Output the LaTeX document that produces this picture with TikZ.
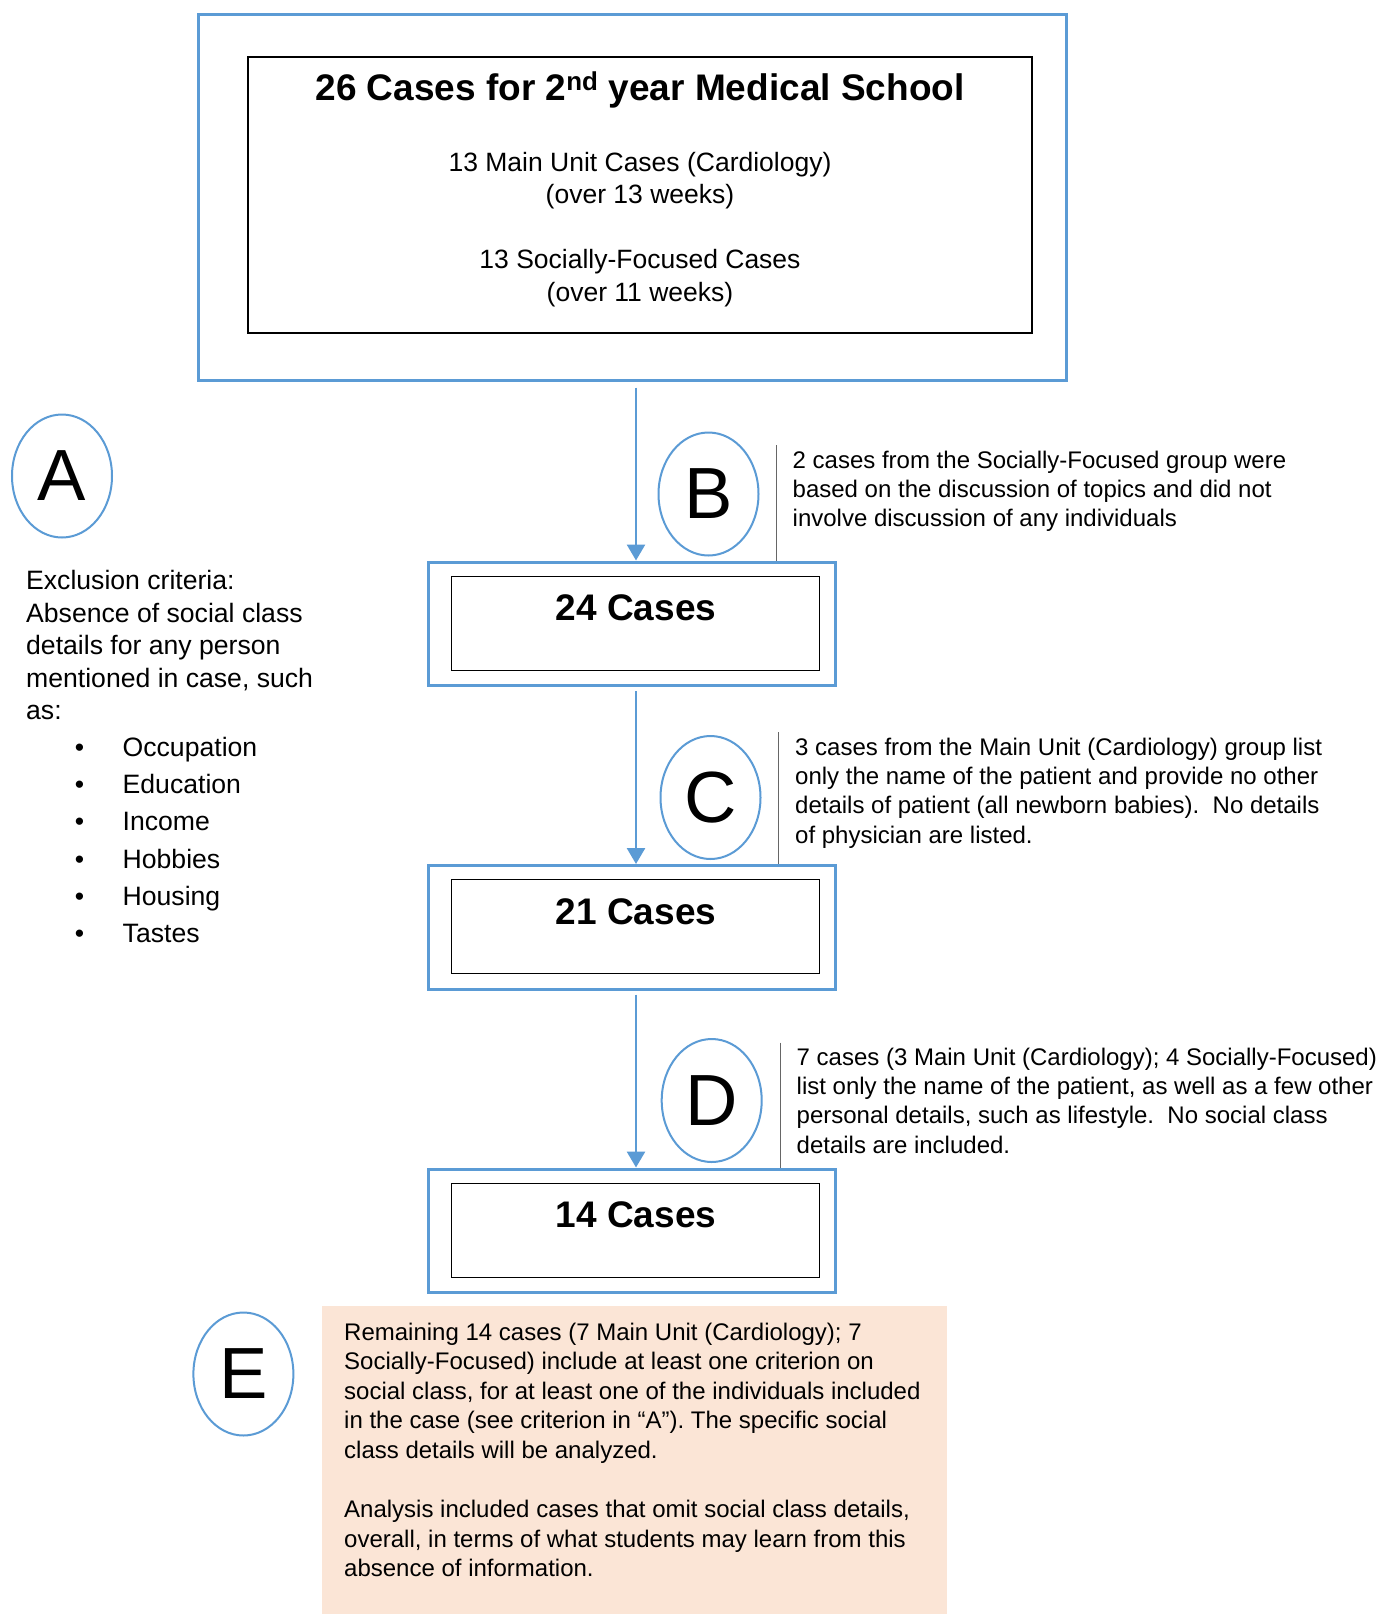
\documentclass[tikz,border=0pt]{standalone}
\usepackage{fontspec}
\setmainfont{Liberation Sans}
\usetikzlibrary{shapes.geometric,arrows.meta,calc}
\definecolor{cblue}{HTML}{5B9BD5}
\definecolor{cpeach}{HTML}{FBE5D6}
\definecolor{cgray}{HTML}{666666}
\begin{document}
\begin{tikzpicture}[x=1pt,y=-1pt,
  frame/.style={draw=cblue, line width=3pt, inner sep=0pt},
  innerbox/.style={draw=black, line width=1.3pt, inner sep=0pt},
  lbl/.style={draw=cblue, line width=2pt, ellipse, minimum width=100pt, minimum height=123pt, inner sep=0pt, font=\fontsize{72.5}{80}\selectfont},
  sidetext/.style={anchor=base west, inner sep=0pt, font=\fontsize{24}{29.4}\selectfont},
  casetext/.style={anchor=base, inner sep=0pt, font=\bfseries\fontsize{37}{44}\selectfont},
  flow/.style={draw=cblue, line width=2.7pt, -{Triangle[length=16pt,width=18pt]}},
  tick/.style={draw=cgray, line width=1.5pt}]
\path[use as bounding box, fill=white] (0,0) rectangle (1379,1614);

% top box
\node[frame, minimum width=868pt, minimum height=366pt] (top) at (632,197) {};
\node[innerbox, minimum width=784pt, minimum height=276pt] (topin) at (640,195) {};
\node[casetext] (title) at (640,100) {26 Cases for 2\textsuperscript{nd} year Medical School};
\node[anchor=base, inner sep=0pt, font=\fontsize{26.5}{32.5}\selectfont] (toptext) at (640,171)
  {\begin{tabular}[t]{@{}c@{}}13 Main Unit Cases (Cardiology)\\(over 13 weeks)\\ \\13 Socially-Focused Cases\\(over 11 weeks)\end{tabular}};

% case boxes
\node[frame, minimum width=407pt, minimum height=123.5pt] (o24) at (631.5,623.75) {};
\node[innerbox, minimum width=367.7pt, minimum height=94pt] (i24) at (635.6,623.25) {};
\node[casetext] (t24) at (636,620.7) {24 Cases};

\node[frame, minimum width=407pt, minimum height=123.5pt] (o21) at (631.5,927.25) {};
\node[innerbox, minimum width=367.7pt, minimum height=94pt] (i21) at (635.6,926.75) {};
\node[casetext] (t21) at (636,924.2) {21 Cases};

\node[frame, minimum width=407pt, minimum height=123.5pt] (o14) at (631.5,1230.75) {};
\node[innerbox, minimum width=367.7pt, minimum height=94pt] (i14) at (635.6,1230.25) {};
\node[casetext] (t14) at (636,1227.7) {14 Cases};

% arrows
\coordinate (ax) at (636,0);
\draw[flow] ($(top.south -| ax)+(0,6)$) -- (o24.north -| ax);
\draw[flow] ($(o24.south -| ax)+(0,4)$) -- (o21.north -| ax);
\draw[flow] ($(o21.south -| ax)+(0,4)$) -- (o14.north -| ax);

% labels
\node[lbl] (A) at (62,476) {A};
\node[lbl] (B) at (708.5,494) {B};
\node[lbl] (C) at (710.5,797.5) {C};
\node[lbl] (D) at (711.7,1100.5) {D};
\node[lbl] (E) at (243.4,1374) {E};

% gray ticks
\coordinate (tb) at (776.5,445);
\draw[tick] (tb) -- (tb |- o24.north);
\coordinate (tc) at (778.6,732);
\draw[tick] (tc) -- (tc |- o21.north);
\coordinate (td) at (780.6,1042.7);
\draw[tick] (td) -- (td |- o14.north);

% side texts
\node[sidetext] (Btext) at (792.5,468)
  {\begin{tabular}[t]{@{}l@{}}2 cases from the Socially-Focused group were\\based on the discussion of topics and did not\\involve discussion of any individuals\end{tabular}};
\node[sidetext] (Ctext) at (795,755)
  {\begin{tabular}[t]{@{}l@{}}3 cases from the Main Unit (Cardiology) group list\\only the name of the patient and provide no other\\details of patient (all newborn babies).\ \ No details\\of physician are listed.\end{tabular}};
\node[sidetext] (Dtext) at (796.5,1065)
  {\begin{tabular}[t]{@{}l@{}}7 cases (3 Main Unit (Cardiology); 4 Socially-Focused)\\list only the name of the patient, as well as a few other\\personal details, such as lifestyle.\ \ No social class\\details are included.\end{tabular}};

% A text
\node[anchor=base west, inner sep=0pt, font=\fontsize{26.6}{32.6}\selectfont] (Atext) at (26,589.5)
  {\begin{tabular}[t]{@{}l@{}}Exclusion criteria:\\Absence of social class\\details for any person\\mentioned in case, such\\as:\end{tabular}};
\node[anchor=base west, inner sep=0pt, font=\fontsize{26.6}{37.2}\selectfont] (Abul) at (74.6,756.5)
  {\begin{tabular}[t]{@{}l@{}}•\\•\\•\\•\\•\\•\end{tabular}};
\node[anchor=base west, inner sep=0pt, font=\fontsize{26.6}{37.2}\selectfont] (Alist) at (122.5,756.5)
  {\begin{tabular}[t]{@{}l@{}}Occupation\\Education\\Income\\Hobbies\\Housing\\Tastes\end{tabular}};

% E box
\node[fill=cpeach, anchor=north west, inner sep=0pt, minimum width=624.7pt, minimum height=308pt] (Ebox) at (322,1306) {};
\node[sidetext, font=\fontsize{24}{29.6}\selectfont] (Etext) at (344,1340)
  {\begin{tabular}[t]{@{}l@{}}Remaining 14 cases (7 Main Unit (Cardiology); 7\\Socially-Focused) include at least one criterion on\\social class, for at least one of the individuals included\\in the case (see criterion in “A”). The specific social\\class details will be analyzed.\\ \\Analysis included cases that omit social class details,\\overall, in terms of what students may learn from this\\absence of information.\end{tabular}};
\end{tikzpicture}
\end{document}
